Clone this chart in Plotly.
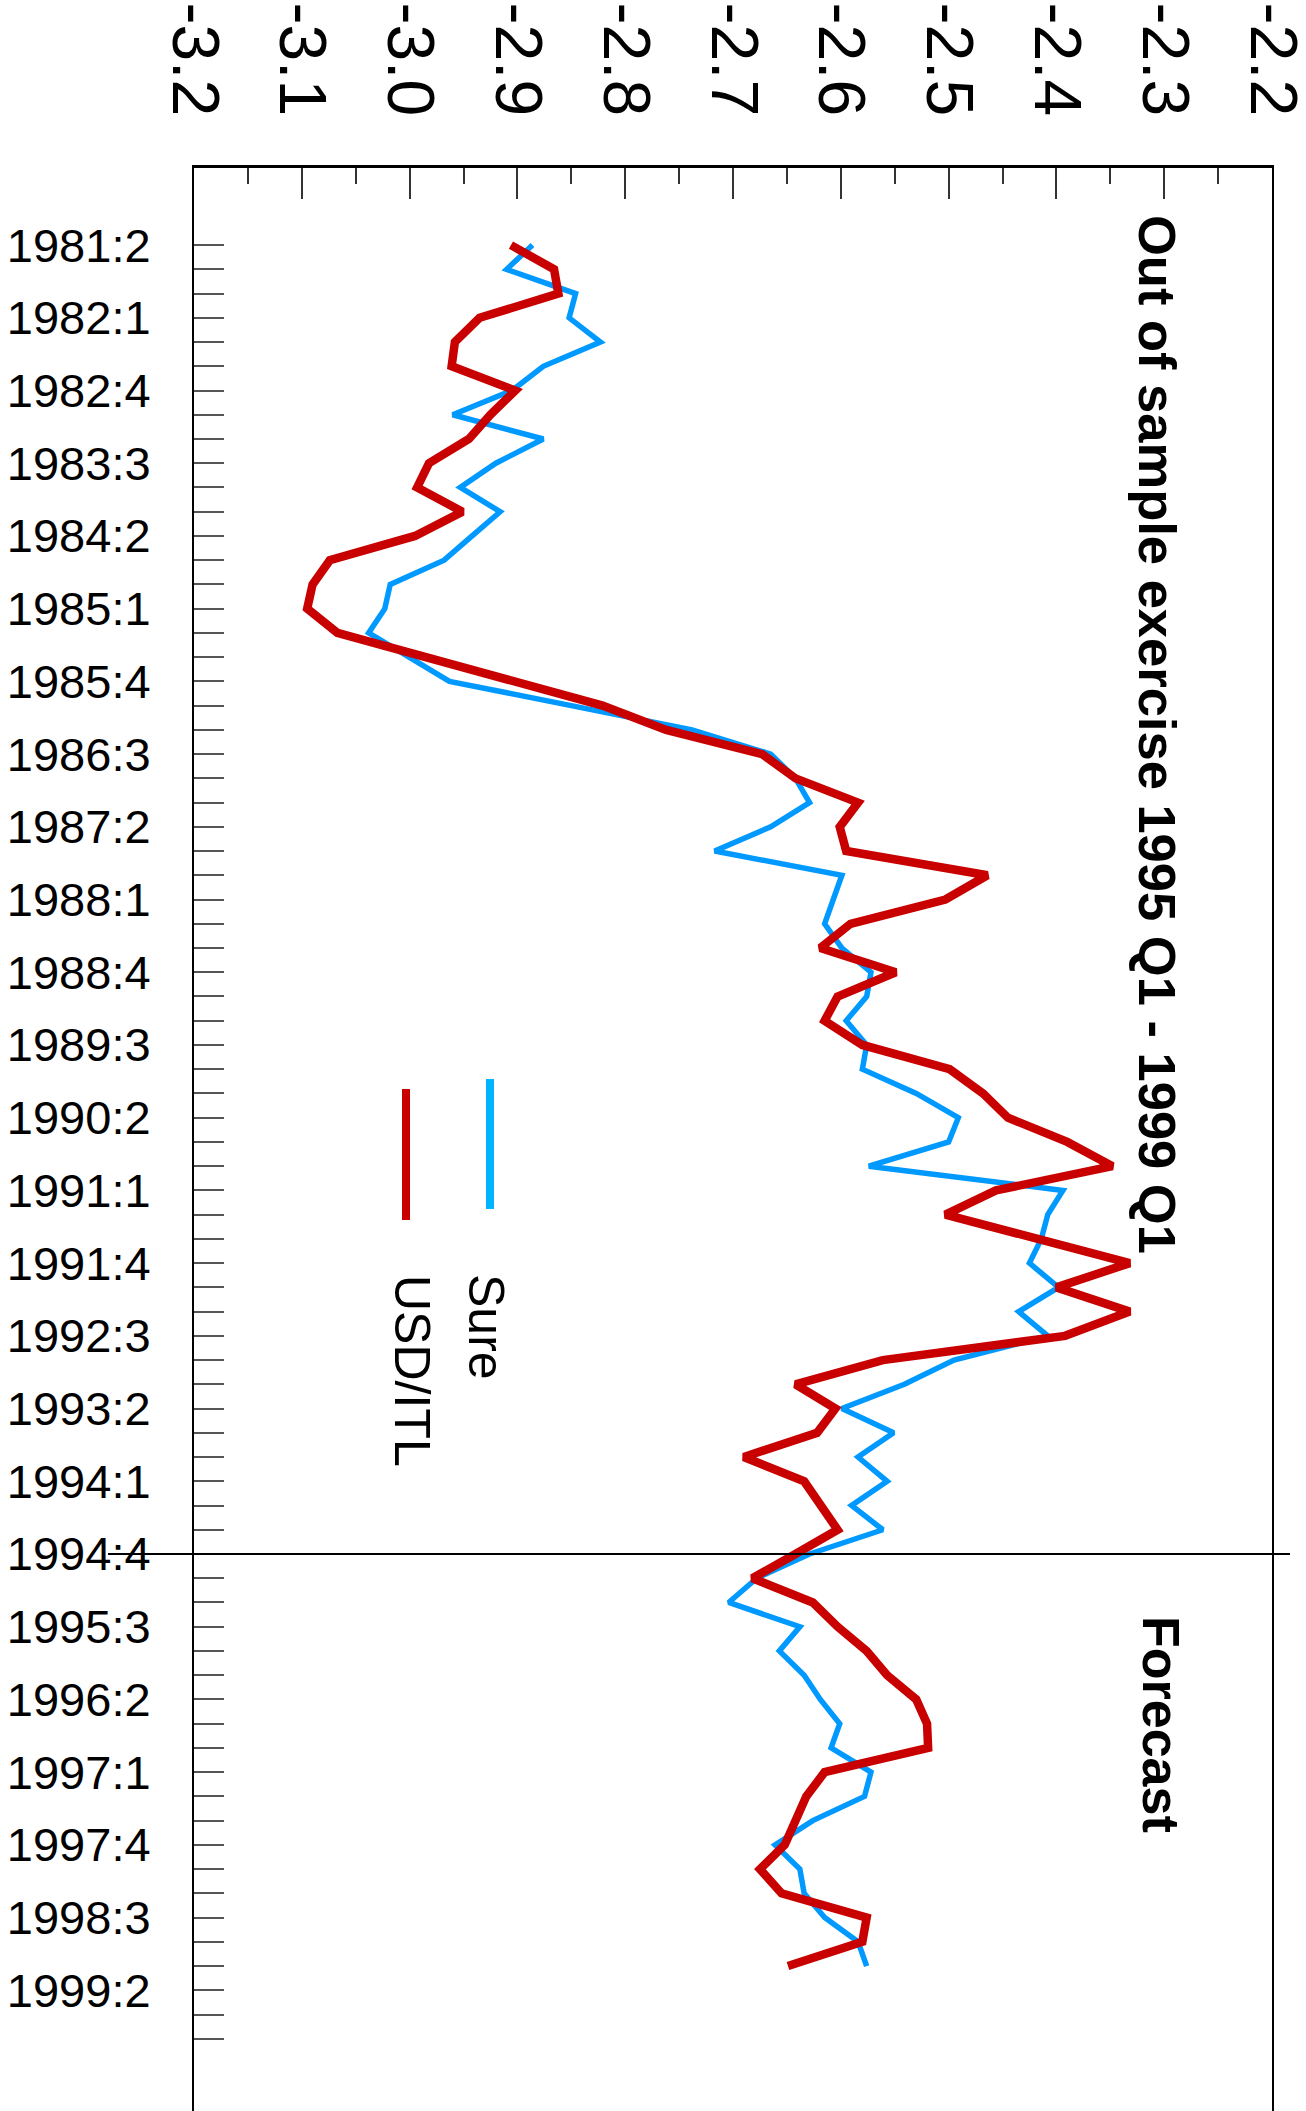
import plotly.graph_objects as go

# Quarterly periods (1981:2 ... 1999:4)
quarters = [
    "1981:2", "1981:3", "1981:4",
    "1982:1", "1982:2", "1982:3", "1982:4",
    "1983:1", "1983:2", "1983:3", "1983:4",
    "1984:1", "1984:2", "1984:3", "1984:4",
    "1985:1", "1985:2", "1985:3", "1985:4",
    "1986:1", "1986:2", "1986:3", "1986:4",
    "1987:1", "1987:2", "1987:3", "1987:4",
    "1988:1", "1988:2", "1988:3", "1988:4",
    "1989:1", "1989:2", "1989:3", "1989:4",
    "1990:1", "1990:2", "1990:3", "1990:4",
    "1991:1", "1991:2", "1991:3", "1991:4",
    "1992:1", "1992:2", "1992:3", "1992:4",
    "1993:1", "1993:2", "1993:3", "1993:4",
    "1994:1", "1994:2", "1994:3", "1994:4",
    "1995:1", "1995:2", "1995:3", "1995:4",
    "1996:1", "1996:2", "1996:3", "1996:4",
    "1997:1", "1997:2", "1997:3", "1997:4",
    "1998:1", "1998:2", "1998:3", "1998:4",
    "1999:1", "1999:2", "1999:3", "1999:4",
]

labelled_quarters = [
    "1981:2", "1982:1", "1982:4", "1983:3", "1984:2", "1985:1", "1985:4",
    "1986:3", "1987:2", "1988:1", "1988:4", "1989:3", "1990:2", "1991:1",
    "1991:4", "1992:3", "1993:2", "1994:1", "1994:4", "1995:3", "1996:2",
    "1997:1", "1997:4", "1998:3", "1999:2",
]

sure = [
    -2.886, -2.910, -2.846, -2.852, -2.823, -2.876, -2.905, -2.960, -2.876, -2.920,
    -2.953, -2.916, -2.942, -2.968, -3.018, -3.023, -3.038, -3.000, -2.963, -2.850,
    -2.738, -2.665, -2.642, -2.629, -2.665, -2.717, -2.599, -2.607, -2.615, -2.599,
    -2.572, -2.576, -2.595, -2.576, -2.580, -2.530, -2.491, -2.500, -2.574, -2.394,
    -2.408, -2.414, -2.425, -2.398, -2.435, -2.408, -2.495, -2.541, -2.599, -2.551,
    -2.584, -2.557, -2.590, -2.561, -2.629, -2.678, -2.704, -2.638, -2.657, -2.634,
    -2.619, -2.601, -2.609, -2.572, -2.578, -2.626, -2.661, -2.638, -2.634, -2.615,
    -2.584, -2.576,
]

usd_itl = [
    -2.906, -2.866, -2.862, -2.935, -2.958, -2.961, -2.902, -2.925, -2.945, -2.982,
    -2.993, -2.951, -2.995, -3.074, -3.090, -3.095, -3.067, -2.986, -2.904, -2.821,
    -2.762, -2.673, -2.642, -2.584, -2.601, -2.595, -2.464, -2.503, -2.591, -2.619,
    -2.549, -2.603, -2.615, -2.580, -2.499, -2.468, -2.445, -2.390, -2.348, -2.456,
    -2.503, -2.418, -2.332, -2.400, -2.332, -2.392, -2.561, -2.642, -2.605, -2.622,
    -2.690, -2.634, -2.619, -2.603, -2.642, -2.682, -2.626, -2.603, -2.576, -2.557,
    -2.530, -2.520, -2.519, -2.615, -2.632, -2.642, -2.652, -2.675, -2.655, -2.576,
    -2.580, -2.649,
]

x_ticks = [-3.2, -3.1, -3.0, -2.9, -2.8, -2.7, -2.6, -2.5, -2.4, -2.3, -2.2]
x_ticktext = ["-3.2", "-3.1", "-3.0", "-2.9", "-2.8", "-2.7", "-2.6", "-2.5", "-2.4", "-2.3", "-2.2"]

forecast_start = "1994:4"

FONT = "Liberation Sans"
BLUE = "#0099FF"
RED = "#C80000"

fig = go.Figure()
fig.add_trace(go.Scatter(
    x=sure, y=quarters[:len(sure)], mode="lines", name="Sure",
    line=dict(color=BLUE, width=5.5), showlegend=False,
))
fig.add_trace(go.Scatter(
    x=usd_itl, y=quarters[:len(usd_itl)], mode="lines", name="USD/ITL",
    line=dict(color=RED, width=8.5), showlegend=False,
))

W, H = 1306, 2111
L, R, T, B = 194, 34, 168, 0
pw, ph = W - L - R, H - T - B

def px(x):
    return (x - L) / pw

def py(y):
    return 1 - (y - T) / ph

fig.update_layout(
    width=W, height=H,
    margin=dict(l=L, r=R, t=T, b=B, pad=0),
    paper_bgcolor="white", plot_bgcolor="white",
    font=dict(family=FONT, color="black"),
    xaxis=dict(
        side="top", range=[-3.2, -2.2],
        tickmode="array", tickvals=x_ticks, ticktext=x_ticktext,
        tickangle=90, tickfont=dict(size=66, family=FONT),
        ticks="inside", ticklen=31, tickwidth=1.5, tickcolor="#333",
        ticklabelstandoff=26, ticklabeloverflow="allow",
        minor=dict(dtick=0.05, ticks="inside", ticklen=16, tickwidth=1.5, tickcolor="#333", showgrid=False),
        showline=True, linecolor="black", linewidth=2.5, mirror=False,
        showgrid=False, zeroline=False, automargin=False,
    ),
    yaxis=dict(
        type="category", categoryorder="array", categoryarray=quarters,
        range=[76.98, -3.18],
        tickmode="array", tickvals=quarters,
        ticktext=[q if q in labelled_quarters else "" for q in quarters],
        tickfont=dict(size=47, family=FONT),
        ticks="inside", ticklen=30, tickwidth=2, tickcolor="#555",
        ticklabelstandoff=32, ticklabeloverflow="allow",
        showline=True, linecolor="black", linewidth=2, mirror=True,
        showgrid=False, zeroline=False, automargin=False,
    ),
)

# Forecast separator line
fig.add_shape(type="line", xref="paper", yref="y",
              x0=px(108), x1=px(1290), y0=forecast_start, y1=forecast_start,
              line=dict(color="black", width=2))

# Legend (manual)
fig.add_shape(type="line", xref="paper", yref="paper",
              x0=px(490), x1=px(490), y0=py(1079), y1=py(1209),
              line=dict(color="#00B4FF", width=8))
fig.add_shape(type="line", xref="paper", yref="paper",
              x0=px(406), x1=px(406), y0=py(1089), y1=py(1220),
              line=dict(color=RED, width=8))
fig.add_annotation(text="Sure", xref="paper", yref="paper", x=px(486), y=py(1327),
                   textangle=90, showarrow=False, xanchor="center", yanchor="middle",
                   font=dict(size=50, family=FONT, color="black"))
fig.add_annotation(text="USD/ITL", xref="paper", yref="paper", x=px(412), y=py(1371),
                   textangle=90, showarrow=False, xanchor="center", yanchor="middle",
                   font=dict(size=50, family=FONT, color="black"))

# Titles
fig.add_annotation(text="<b>Out of sample exercise 1995 Q1 - 1999 Q1</b>", xref="paper", yref="paper",
                   x=px(1158), y=py(734), textangle=90, showarrow=False,
                   xanchor="center", yanchor="middle",
                   font=dict(size=52.5, family=FONT, color="black"))
fig.add_annotation(text="<b>Forecast</b>", xref="paper", yref="paper",
                   x=px(1161), y=py(1724), textangle=90, showarrow=False,
                   xanchor="center", yanchor="middle",
                   font=dict(size=52, family=FONT, color="black"))

fig.write_html("out.html", config={"displayModeBar": False},
               post_script="document.body.style.margin='0';")
